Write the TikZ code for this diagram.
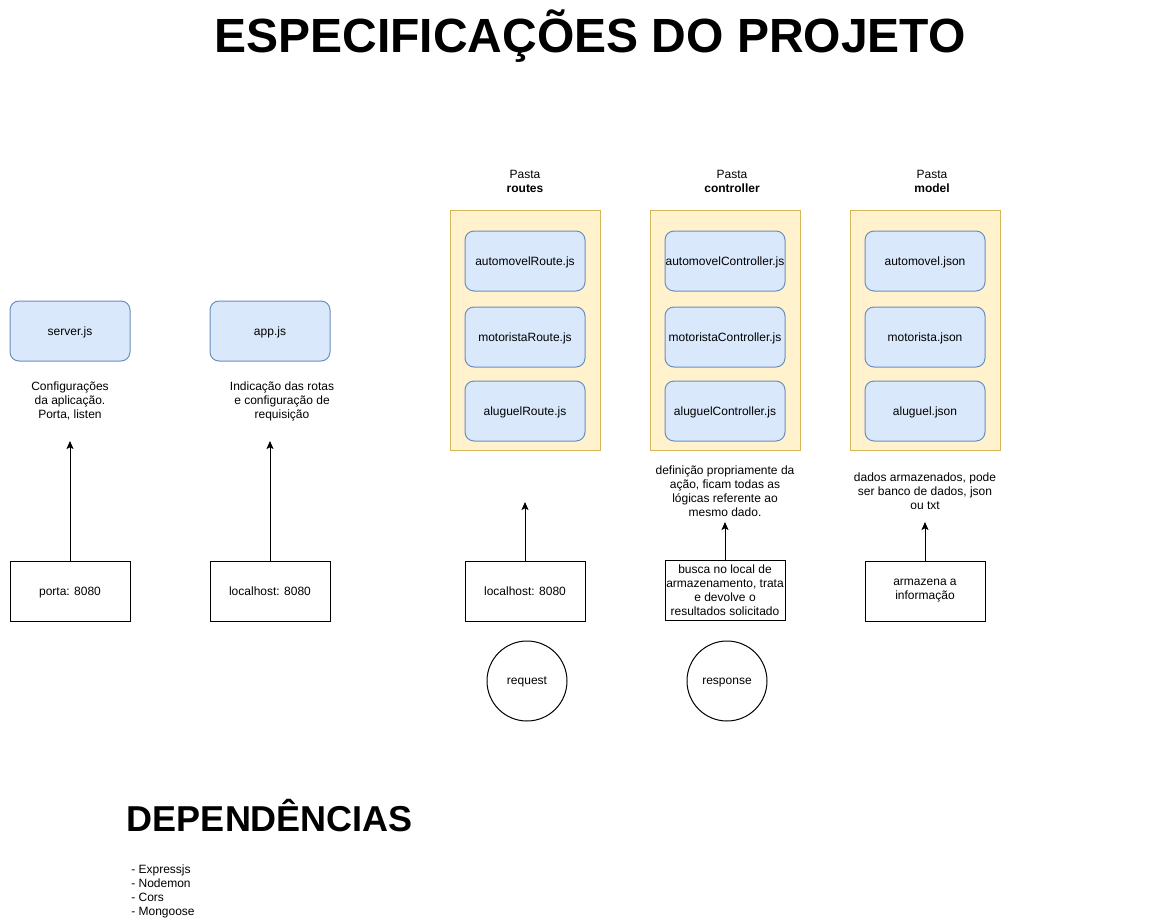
\documentclass[tikz,border=0pt]{standalone}
\usepackage{fontspec}
\setmainfont{Liberation Sans}
\usetikzlibrary{positioning,arrows.meta}

\definecolor{filefill}{HTML}{DAE8FC}
\definecolor{fileline}{HTML}{6C8EBF}
\definecolor{folderfill}{HTML}{FFF2CC}
\definecolor{folderline}{HTML}{D6B656}

\tikzset{
  txt/.style={font=\fontsize{9}{10.5}\selectfont, align=center, inner sep=0pt},
  filebox/.style={txt, draw=fileline, fill=filefill, line width=0.75pt, rounded corners=6.75pt,
    minimum width=90pt, minimum height=45pt},
  folderbox/.style={draw=folderline, fill=folderfill, line width=0.75pt,
    minimum width=112.5pt, minimum height=180pt},
  plainbox/.style={txt, draw, line width=0.75pt, minimum width=90pt, minimum height=45pt},
  ball/.style={txt, draw, circle, line width=0.75pt, minimum size=60pt},
  up/.style={-{Stealth[length=6pt, width=5.25pt, inset=1.3pt]}, line width=0.75pt}
}

\begin{document}
\begin{tikzpicture}[x=0.75pt, y=-0.75pt]
\useasboundingbox (0,0) rectangle (1161,921);

% Titles
  \node[font=\fontsize{36}{40}\selectfont\bfseries] (title) at (590,36) {ESPECIFICAÇÕES DO PROJETO};
  \node[font=\fontsize{27}{30}\selectfont\bfseries] (deps) at (270,816) {DEPENDÊNCIAS};
  \node[txt, align=left, anchor=west] (deplist) at (131,891) {- Expressjs\\- Nodemon\\- Cors\\- Mongoose};

% server and app
  \node[filebox, text depth=0pt] (server) at (70,331) {server.js};
  \node[filebox, text depth=0pt] (app) at (270,331) {app.js};
  \node[txt] (servernote) at (70,401) {Configurações\\da aplicação.\\Porta, listen};
  \node[txt] (appnote) at (282,401) {Indicação das rotas\\e configuração de\\requisição};

% Folders
  \node[folderbox] (routes) at (525,330) {};
  \node[folderbox] (controller) at (725,330) {};
  \node[folderbox] (model) at (925,330) {};
  \node[txt] (routeslabel) at (525,181) {Pasta\\\textbf{routes}};
  \node[txt] (controllerlabel) at (732,181) {Pasta\\\textbf{controller}};
  \node[txt] (modellabel) at (932,181) {Pasta\\\textbf{model}};

  \foreach \n/\y in {automovel/261, motorista/337, aluguel/411}{
    \node[filebox, text depth=0pt] (\n Route) at (525,\y) {\n Route.js};
    \node[filebox, text depth=0pt] (\n Controller) at (725,\y) {\n Controller.js};
    \node[filebox, text depth=0pt] (\n Model) at (925,\y) {\n.json};
  }

  \node[txt] (controllernote) at (725,491) {definição propriamente da\\ação, ficam todas as\\lógicas referente ao\\mesmo dado.};
  \node[txt] (modelnote) at (925,491) {dados armazenados, pode\\ser banco de dados, json\\ou txt};

% Bottom boxes
  \node[plainbox, text depth=0pt] (porta) at (70,591) {porta: 8080};
  \node[plainbox, text depth=0pt] (localapp) at (270,591) {localhost: 8080};
  \node[plainbox, text depth=0pt] (localroutes) at (525,591) {localhost: 8080};
  \node[plainbox] (busca) at (725,590) {busca no local de\\armazenamento, trata\\e devolve o\\resultados solicitado};
  \node[plainbox] (armazena) at (925,591) {armazena a\\informação};

  \node[ball, text depth=0pt] (request) at (527,681) {request};
  \node[ball, text depth=0pt] (response) at (727,681) {response};

% Arrows
  \coordinate (tipserver) at (70,441);
  \coordinate (tipapp) at (270,441);
  \coordinate (tiproutes) at (525,502);
  \coordinate (tipcontroller) at (725,522);
  \coordinate (tipmodel) at (925,522);
  \draw[up] (porta) -- (tipserver);
  \draw[up] (localapp) -- (tipapp);
  \draw[up] (localroutes) -- (tiproutes);
  \draw[up] (busca) -- (tipcontroller);
  \draw[up] (armazena) -- (tipmodel);

\end{tikzpicture}
\end{document}
